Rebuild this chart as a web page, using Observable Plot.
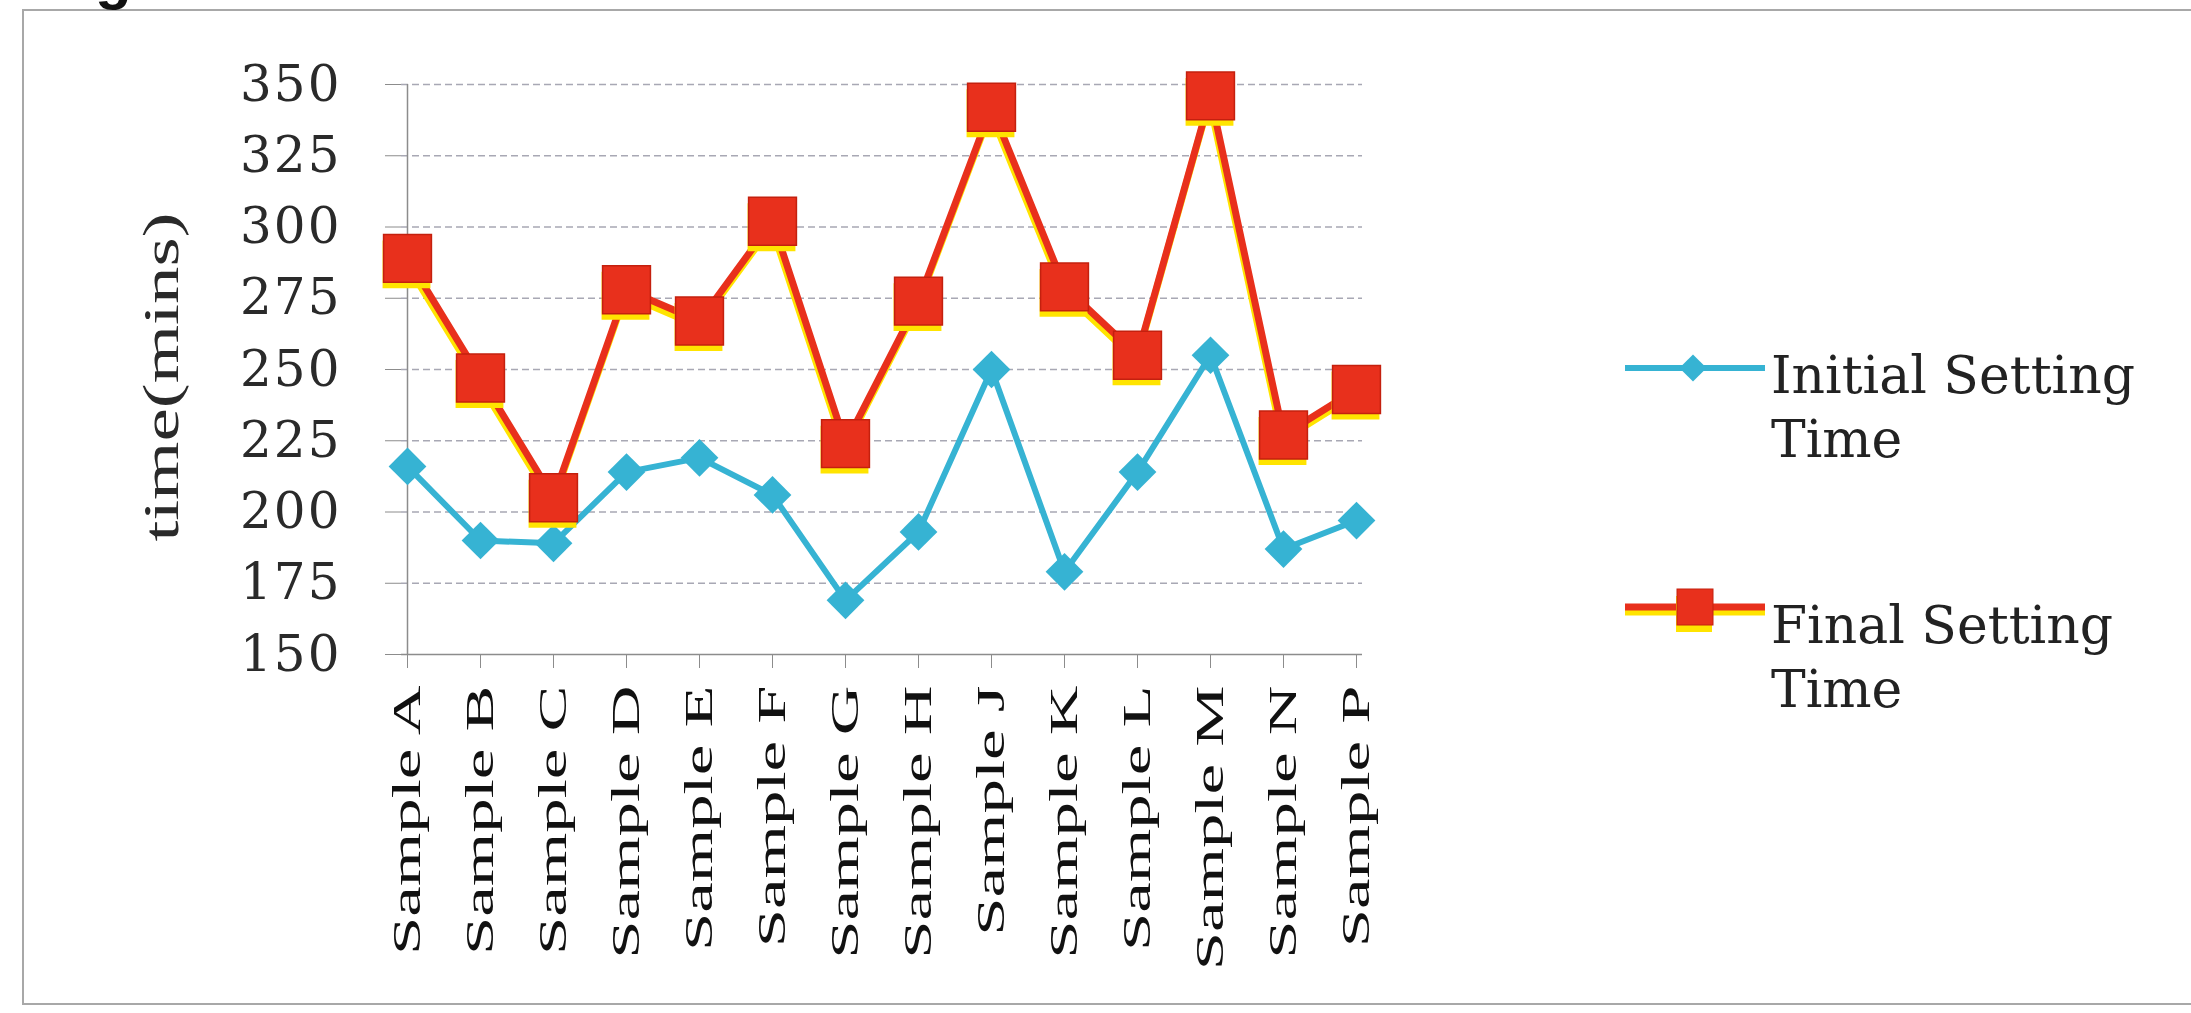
<!DOCTYPE html>
<html>
<head>
<meta charset="utf-8">
<script src="https://cdn.jsdelivr.net/npm/d3@7"></script>
<script src="https://cdn.jsdelivr.net/npm/@observablehq/plot@0.6"></script>
<style>
  body { margin: 0; background: #fff; }
  #wrap { position: relative; width: 2191px; height: 1013px; overflow: hidden; background: #fff; }
  #frame { position: absolute; left: 22px; top: 9px; width: 2300px; height: 992px; border: 2px solid #a8a8a8; }
  #chart { position: absolute; left: 0; top: 0; }
  #fig { position: absolute; left: 95px; top: -52px; font: bold 60px "Liberation Sans", sans-serif; line-height: 1; color: #111; }
  #ytitle { position: absolute; left: 161px; top: 377px; white-space: nowrap;
            transform: translate(-50%, -50%) rotate(-90deg) scale(1.5, 1);
            font: 50px "Liberation Serif", serif; color: #2a2a2a; }
  .leg { position: absolute; }
  .legtext { position: absolute; left: 1771px; white-space: pre; font: 52px "DejaVu Serif", serif;
             line-height: 64px; color: #222; }
</style>
</head>
<body>
<div id="wrap">
  <div id="frame"></div>
  <div id="fig">g</div>
  <div id="chart"></div>
  <div id="ytitle">time(mins)</div>
</div>
<script>
// ---- data ----
const samples = ["Sample A", "Sample B", "Sample C", "Sample D", "Sample E", "Sample F", "Sample G",
                 "Sample H", "Sample J", "Sample K", "Sample L", "Sample M", "Sample N", "Sample P"];
const initialTime = [216, 190, 189, 214, 219, 206, 169, 193, 250, 179, 214, 255, 187, 197];
const finalTime   = [289, 247, 205, 278, 267, 302, 224, 274, 342, 279, 255, 346, 227, 243];
const yTicks = [150, 175, 200, 225, 250, 275, 300, 325, 350];
const seriesNames = ["Initial Setting\nTime", "Final Setting\nTime"];
const seriesColors = ["#36b3d3", "#e8301c"];
const shadowColor = "#ffe400";

const rows = samples.map((s, i) => ({sample: s, initial: initialTime[i], final: finalTime[i]}));

const plot = Plot.plot({
  width: 2191, height: 1013,
  marginLeft: 401, marginRight: 829, marginTop: 84, marginBottom: 359,
  style: {background: "transparent", overflow: "visible"},
  x: {type: "point", domain: samples, padding: 0, label: null},
  y: {domain: [150, 350], label: null},
  marks: [
    Plot.ruleY(yTicks.slice(1), {stroke: "#d4d2dc", strokeWidth: 1.2, strokeDasharray: "7,4", dy: -9, x1: samples[0], x2: samples[samples.length - 1], insetLeft: -40}),
    Plot.ruleY(yTicks.slice(1), {stroke: "#a8a8b4", strokeWidth: 1.5, strokeDasharray: "7,4"}),
    Plot.ruleY([150], {stroke: "#8c8c8c", strokeWidth: 1.5}),
    Plot.ruleX([samples[0]], {stroke: "#8c8c8c", strokeWidth: 1.5}),
    Plot.axisY({ticks: yTicks, tickSize: 16, tickPadding: 44, stroke: "#8c8c8c", fill: "#2a2a2a",
                fontSize: 50, fontFamily: "DejaVu Serif", label: null}),
    Plot.axisX({tickSize: 14, tickPadding: 17, tickRotate: -90, stroke: "#8c8c8c", fill: "#111",
                fontSize: 40, fontFamily: "Liberation Serif", label: null}),
    // Initial setting time
    Plot.line(rows, {x: "sample", y: "initial", stroke: seriesColors[0], strokeWidth: 6}),
    Plot.dot(rows, {x: "sample", y: "initial", symbol: "diamond2", r: 17, fill: seriesColors[0]}),
    // Final setting time (with yellow shadow)
    Plot.line(rows, {x: "sample", y: "final", stroke: shadowColor, strokeWidth: 7, dx: -1, dy: 5}),
    Plot.line(rows, {x: "sample", y: "final", stroke: seriesColors[1], strokeWidth: 7}),
    Plot.dot(rows, {x: "sample", y: "final", symbol: "square", r: 27, fill: shadowColor, dx: -1, dy: 6}),
    Plot.dot(rows, {x: "sample", y: "final", symbol: "square", r: 27, fill: seriesColors[1], stroke: "#c4200e", strokeWidth: 1.5})
  ]
});
document.getElementById("chart").appendChild(plot);

// stretch the rotated x labels along their length, and space the y tick digits
d3.select(plot).selectAll('g[aria-label="x-axis tick label"] text').each(function() {
  const t = this.getAttribute("transform") || "";
  this.setAttribute("transform", t + " scale(1.72,1)");
});
d3.select(plot).selectAll('g[aria-label="y-axis tick label"] text').style("letter-spacing", "2px");

// ---- legend ----
const wrap = document.getElementById("wrap");
const legY = [368, 607];
const textTop = [343, 593];
seriesNames.forEach((name, i) => {
  const svg = d3.create("svg").attr("class", "leg").attr("width", 150).attr("height", 60)
    .style("left", "1622px").style("top", (legY[i] - 30) + "px").style("overflow", "visible");
  if (i === 0) {
    svg.append("line").attr("x1", 3).attr("x2", 143).attr("y1", 30).attr("y2", 30)
      .attr("stroke", seriesColors[0]).attr("stroke-width", 6);
    svg.append("path").attr("d", d3.symbol(d3.symbolDiamond2, 470)()).attr("transform", "translate(71,30)")
      .attr("fill", seriesColors[0]);
  } else {
    svg.append("line").attr("x1", 3).attr("x2", 143).attr("y1", 35).attr("y2", 35)
      .attr("stroke", shadowColor).attr("stroke-width", 7);
    svg.append("line").attr("x1", 3).attr("x2", 143).attr("y1", 30).attr("y2", 30)
      .attr("stroke", seriesColors[1]).attr("stroke-width", 7);
    svg.append("rect").attr("x", 54).attr("y", 19).attr("width", 36).attr("height", 36).attr("fill", shadowColor);
    svg.append("rect").attr("x", 55).attr("y", 12).attr("width", 36).attr("height", 36)
      .attr("fill", seriesColors[1]).attr("stroke", "#c4200e");
  }
  wrap.appendChild(svg.node());
  const d = document.createElement("div");
  d.className = "legtext";
  d.style.top = textTop[i] + "px";
  d.textContent = name;
  wrap.appendChild(d);
});
</script>
</body>
</html>
